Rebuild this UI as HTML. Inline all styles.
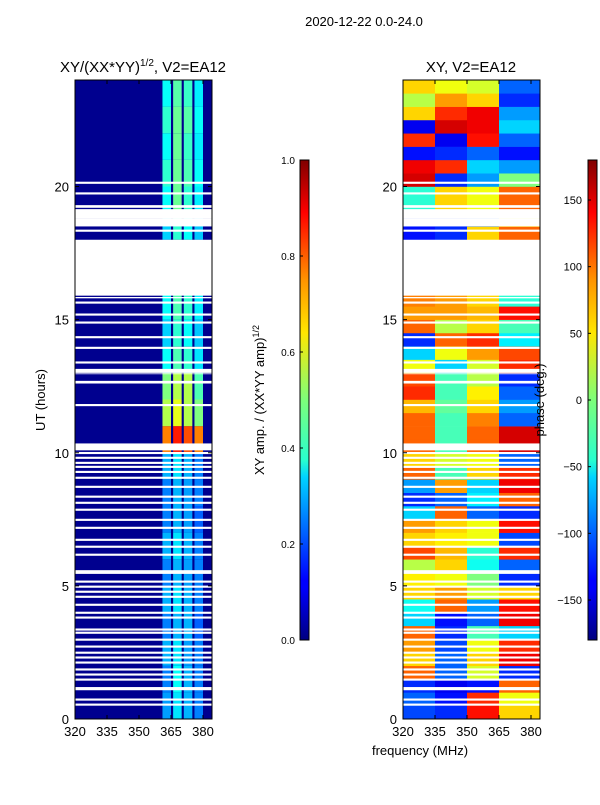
<!DOCTYPE html>
<html><head><meta charset="utf-8">
<style>
body{margin:0;background:#fff;}
svg text{font-family:"Liberation Sans",sans-serif;}
</style></head>
<body>
<svg id="fig" width="600" height="800" xmlns="http://www.w3.org/2000/svg">
<defs>
<linearGradient id="jet" x1="0" y1="1" x2="0" y2="0">
<stop offset="0" stop-color="#000080"/><stop offset="0.11" stop-color="#0000ff"/>
<stop offset="0.125" stop-color="#0000ff"/><stop offset="0.34" stop-color="#00d4ff"/>
<stop offset="0.375" stop-color="#29ffce"/><stop offset="0.5" stop-color="#7dff7a"/>
<stop offset="0.64" stop-color="#ffe600"/><stop offset="0.75" stop-color="#ff9400"/>
<stop offset="0.89" stop-color="#ff0000"/><stop offset="1" stop-color="#800000"/>
</linearGradient>
</defs>
<text x="364" y="26" font-size="13" text-anchor="middle">2020-12-22 0.0-24.0</text>
<text x="143" y="72" font-size="15" text-anchor="middle">XY/(XX*YY)<tspan font-size="10" dy="-6">1/2</tspan><tspan dy="6">, V2=EA12</tspan></text>
<text x="471" y="72" font-size="15" text-anchor="middle">XY, V2=EA12</text>
<g id="left"></g>
<g id="right"></g>
<g id="gaps"></g>
<g id="axes"></g>
<text transform="translate(45,400) rotate(-90)" font-size="13" text-anchor="middle">UT (hours)</text>
<text x="420" y="755" font-size="13" text-anchor="middle">frequency (MHz)</text>
<rect x="300" y="160" width="9" height="480" fill="url(#jet)" stroke="#000" stroke-width="1"/>
<rect x="588" y="160" width="9" height="480" fill="url(#jet)" stroke="#000" stroke-width="1"/>
<text transform="translate(264,400) rotate(-90)" font-size="13" text-anchor="middle">XY amp. / (XX*YY amp)<tspan font-size="9" dy="-5">1/2</tspan></text>
<text transform="translate(544,400) rotate(-90)" font-size="13" text-anchor="middle">phase (deg.)</text>
<g id="cbticks"></g>
</svg>
<script>
// ---- data ----
const freqEdges = [320, 335, 350, 365, 384];
const phaseRows = [
[-110,-120,130,60],[-100,-130,120,40],[-120,-140,-130,100],[100,-100,30,-120],
[60,-100,60,140],[80,-110,40,120],[100,-120,-20,-60],[-60,-130,-100,140],
[-40,100,-80,130],[60,80,30,60],[50,40,0,-120],[20,60,-40,-100],
[110,70,-30,120],[60,50,40,-110],[80,60,40,130],[-60,100,-100,-120],
[-120,-100,-50,100],[-80,80,-60,140],[100,-20,60,120],[60,30,40,-100],
[100,-20,100,150],[100,-20,100,150],[100,-20,90,-100],[70,-10,60,-80],
[120,-20,50,-100],[110,-20,20,-120],[40,-60,30,120],[-60,40,80,110],
[-120,100,120,-50],[100,20,60,-20],[80,80,70,130],[90,80,60,-30],
null,null,null,null,
[-130,-120,60,100],[-120,-120,-100,40],[-30,60,40,100],[-30,60,40,100],
[150,-120,-80,0],[140,120,-60,-80],[-130,-120,-100,-130],[120,-140,130,-100],
[-140,150,140,-60],[60,120,140,-80],[20,80,60,-120],[60,40,30,-100]
];
const ampBands = [[361,365],[366,370],[371,375],[376,380]];
const ampRows = [
[0.28,0.35,0.3,0.25],[0.25,0.38,0.3,0.25],[0.3,0.35,0.28,0.25],[0.25,0.3,0.3,0.22],
[0.3,0.35,0.3,0.25],[0.25,0.3,0.28,0.25],[0.3,0.35,0.3,0.25],[0.25,0.3,0.28,0.22],
[0.25,0.3,0.28,0.25],[0.3,0.35,0.3,0.25],[0.75,0.85,0.8,0.75],[0.55,0.6,0.55,0.5],
[0.5,0.55,0.55,0.45],[0.38,0.45,0.42,0.35],[0.33,0.42,0.38,0.32],[0.38,0.45,0.42,0.36],
[0,0,0,0],[0,0,0,0],[0.33,0.42,0.38,0.32],[0.38,0.48,0.42,0.36],
[0.42,0.48,0.45,0.38],[0.38,0.48,0.43,0.36],[0.42,0.48,0.46,0.38],[0.38,0.46,0.43,0.36]
];
const gapStarts = [0.5,0.69,1.08,1.44,1.63,1.82,2.08,2.27,2.45,2.68,2.94,3.2,3.32,3.77,3.95,4.25,4.55,4.74,4.93,5.12,5.45,6.13,6.43,6.69,7.14,7.44,7.82,8.08,8.31,8.68,9.02,9.24,9.43,9.58,9.77,9.95,10.09,11.75,12.6,12.95,13.0,13.35,13.9,14.3,14.85,15.15,15.6,15.8,15.9,18.3,18.5,18.8,19.2,19.7,20.1];
const gapEnds   = [0.58,0.77,1.2,1.52,1.71,1.9,2.16,2.35,2.53,2.76,3.02,3.28,3.4,3.85,4.03,4.33,4.63,4.82,5.01,5.2,5.59,6.21,6.51,6.77,7.22,7.52,7.9,8.16,8.39,8.76,9.1,9.32,9.51,9.66,9.85,10.03,10.35,11.83,12.7,12.98,13.15,13.43,13.98,14.38,14.93,15.23,15.68,15.85,18.0,18.38,18.8,19.15,19.3,19.78,20.18];
const timeTicks = [0,5,10,15,20];
const freqTicks = [320,335,350,365,380];
const ampTicks = [0.0,0.2,0.4,0.6,0.8,1.0];
const phaseTicks = [150,100,50,0,-50,-100,-150];

// ---- axes functions ----
const Y0=719, Y1=80, T0=0, T1=24;
const yT = t => Y0 - (t-T0)/(T1-T0)*(Y0-Y1);
const panels = [{x0:75,id:'left'},{x0:403,id:'right'}];
const PX = 32/15;
const xF = (x0,f) => x0 + (f-320)*PX;
const cbAmp = v => 640 - v*480;
const cbPh = v => 400 - v*480/360;
function jet(v){
  v=Math.max(0,Math.min(1,v));
  const c=x=>Math.round(255*Math.max(0,Math.min(1,x)));
  return `rgb(${c(1.5-Math.abs(4*v-3))},${c(1.5-Math.abs(4*v-2))},${c(1.5-Math.abs(4*v-1))})`;
}
const NS='http://www.w3.org/2000/svg';
function mk(parent,tag,attrs){const e=document.createElementNS(NS,tag);for(const k in attrs)e.setAttribute(k,attrs[k]);parent.appendChild(e);return e;}

// left amplitude
const L=document.getElementById('left');
const bg=mk(L,'rect',{x:75,y:Y1,width:137,height:Y0-Y1,fill:'#00008f'});


ampRows.forEach((row,i)=>{
  row.forEach((v,j)=>{
    if(v<=0) return;
    const r=mk(L,'rect',{x:xF(75,ampBands[j][0]),y:yT(i+1),width:(ampBands[j][1]-ampBands[j][0])*PX,height:yT(i)-yT(i+1),fill:jet(v)});
    
    
  });
});
// right phase
const R=document.getElementById('right');
phaseRows.forEach((row,i)=>{
  if(!row) return;
  row.forEach((v,j)=>{
    const r=mk(R,'rect',{x:xF(403,freqEdges[j]),y:yT((i+1)*0.5),width:(freqEdges[j+1]-freqEdges[j])*PX,height:yT(i*0.5)-yT((i+1)*0.5)+0.3,fill:jet((v+180)/360)});
    
    
  });
});
// gaps
const G=document.getElementById('gaps');
gapStarts.forEach((s,i)=>{
  panels.forEach(p=>{
    const r=mk(G,'rect',{x:p.x0,y:yT(gapEnds[i]),width:137,height:yT(s)-yT(gapEnds[i]),fill:'#fff'});
    
    
  });
});
// axes
const A=document.getElementById('axes');
panels.forEach(p=>{
  const f=mk(A,'rect',{x:p.x0,y:Y1,width:137,height:Y0-Y1,fill:'none',stroke:'#000','stroke-width':1});
  
  
  timeTicks.forEach(t=>{
    const y=yT(t);
    mk(A,'line',{x1:p.x0,x2:p.x0+4,y1:y,y2:y,stroke:'#000'});
    mk(A,'line',{x1:p.x0+137,x2:p.x0+133,y1:y,y2:y,stroke:'#000'});
    const tx=mk(A,'text',{x:p.x0-6,y:y+5,'font-size':13,'text-anchor':'end'});
    tx.textContent=t;
    
    
  });
  freqTicks.forEach(fq=>{
    const x=xF(p.x0,fq);
    mk(A,'line',{x1:x,x2:x,y1:Y0,y2:Y0-4,stroke:'#000'});
    mk(A,'line',{x1:x,x2:x,y1:Y1,y2:Y1+4,stroke:'#000'});
    const tx=mk(A,'text',{x:x,y:Y0+17,'font-size':13,'text-anchor':'middle'});
    tx.textContent=fq;
    
    
  });
});
// colorbar ticks
const C=document.getElementById('cbticks');
ampTicks.forEach(v=>{
  const y=cbAmp(v);
  mk(C,'line',{x1:300,x2:303,y1:y,y2:y,stroke:'#000'});
  const tx=mk(C,'text',{x:295,y:y+4,'font-size':10,'text-anchor':'end'});
  tx.textContent=v.toFixed(1);
  
  
});
phaseTicks.forEach(v=>{
  const y=cbPh(v);
  mk(C,'line',{x1:588,x2:591,y1:y,y2:y,stroke:'#000'});
  const tx=mk(C,'text',{x:582,y:y+4,'font-size':11,'text-anchor':'end'});
  tx.textContent=v<0?'\u2212'+(-v):String(v);
  
  
});
</script>
</body></html>
